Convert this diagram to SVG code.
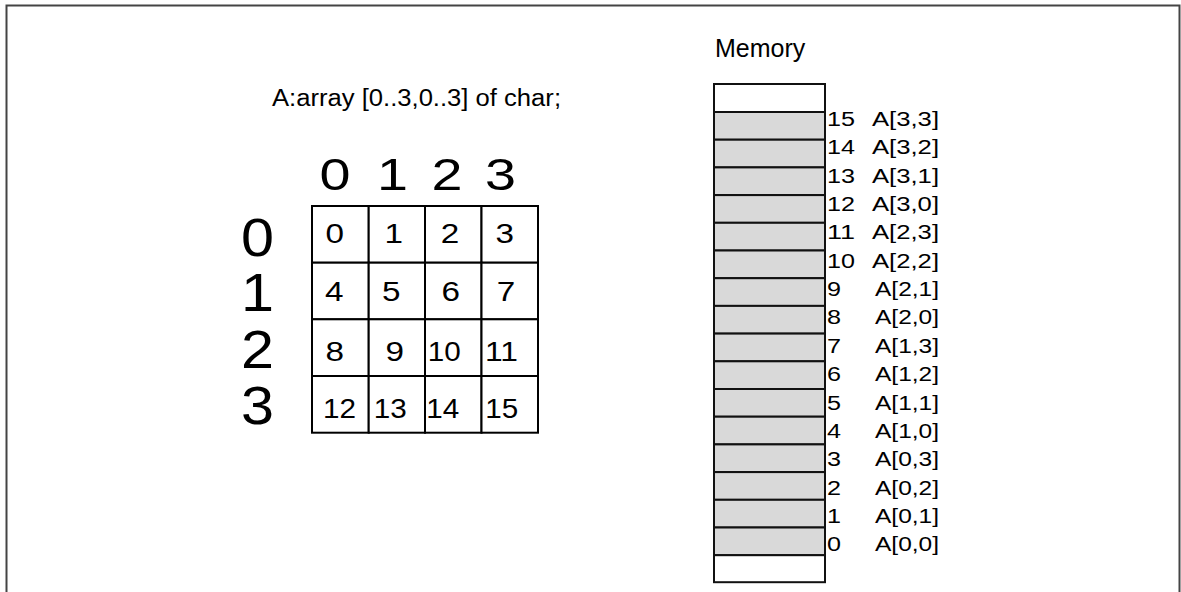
<svg xmlns="http://www.w3.org/2000/svg" width="1181" height="592" viewBox="0 0 1181 592">
<style>
text{font-family:"Liberation Sans",Arial,sans-serif;fill:#000}
.cell{fill:#fff;stroke:#000;stroke-width:2}
.mem{fill:#d9d9d9;stroke:#111;stroke-width:2}
.memw{fill:#fff;stroke:#111;stroke-width:2}
.cn{font-size:28px}
.hd{font-size:45px}
.rh{font-size:54px}
.lb{font-size:20.5px}
</style>
<rect x="0" y="0" width="1181" height="592" fill="#fff"/>
<path d="M6.5,592 V5.5 H1179.5 V592" fill="none" stroke="#444" stroke-width="2"/>
<g id="title"><text x="272" y="106" font-size="23.5" textLength="289" lengthAdjust="spacingAndGlyphs">A:array [0..3,0..3] of char;</text></g>
<g id="memory-title"><text x="715" y="57" font-size="25">Memory</text></g>
<g id="col-headers" class="hd">
<text x="319.5" y="190" textLength="31" lengthAdjust="spacingAndGlyphs">0</text>
<text x="377" y="190" textLength="31" lengthAdjust="spacingAndGlyphs">1</text>
<text x="431.5" y="190" textLength="31" lengthAdjust="spacingAndGlyphs">2</text>
<text x="485" y="190" textLength="31" lengthAdjust="spacingAndGlyphs">3</text>
</g>
<g id="row-headers" class="rh">
<text x="241" y="256" textLength="33" lengthAdjust="spacingAndGlyphs">0</text>
<text x="241" y="311" textLength="33" lengthAdjust="spacingAndGlyphs">1</text>
<text x="241" y="367.5" textLength="33" lengthAdjust="spacingAndGlyphs">2</text>
<text x="241" y="424" textLength="33" lengthAdjust="spacingAndGlyphs">3</text>
</g>
<g id="grid">
<g id="cell-0"><rect class="cell" x="312" y="206" width="56.7" height="56.7"/><text class="cn" x="325.5" y="243" textLength="18.5" lengthAdjust="spacingAndGlyphs">0</text></g>
<g id="cell-1"><rect class="cell" x="368.7" y="206" width="56.3" height="56.7"/><text class="cn" x="384.5" y="243" textLength="18.5" lengthAdjust="spacingAndGlyphs">1</text></g>
<g id="cell-2"><rect class="cell" x="425" y="206" width="56.5" height="56.7"/><text class="cn" x="440.8" y="243" textLength="18.5" lengthAdjust="spacingAndGlyphs">2</text></g>
<g id="cell-3"><rect class="cell" x="481.5" y="206" width="56.5" height="56.7"/><text class="cn" x="495.5" y="243" textLength="18.5" lengthAdjust="spacingAndGlyphs">3</text></g>
<g id="cell-4"><rect class="cell" x="312" y="262.7" width="56.7" height="56.6"/><text class="cn" x="325" y="301" textLength="18.5" lengthAdjust="spacingAndGlyphs">4</text></g>
<g id="cell-5"><rect class="cell" x="368.7" y="262.7" width="56.3" height="56.6"/><text class="cn" x="382" y="301" textLength="18.5" lengthAdjust="spacingAndGlyphs">5</text></g>
<g id="cell-6"><rect class="cell" x="425" y="262.7" width="56.5" height="56.6"/><text class="cn" x="441.5" y="301" textLength="18.5" lengthAdjust="spacingAndGlyphs">6</text></g>
<g id="cell-7"><rect class="cell" x="481.5" y="262.7" width="56.5" height="56.6"/><text class="cn" x="496.8" y="301" textLength="18.5" lengthAdjust="spacingAndGlyphs">7</text></g>
<g id="cell-8"><rect class="cell" x="312" y="319.3" width="56.7" height="56.7"/><text class="cn" x="325.5" y="360.5" textLength="18.5" lengthAdjust="spacingAndGlyphs">8</text></g>
<g id="cell-9"><rect class="cell" x="368.7" y="319.3" width="56.3" height="56.7"/><text class="cn" x="385.5" y="360.5" textLength="18.5" lengthAdjust="spacingAndGlyphs">9</text></g>
<g id="cell-10"><rect class="cell" x="425" y="319.3" width="56.5" height="56.7"/><text class="cn" x="427.8" y="360.5" textLength="33" lengthAdjust="spacingAndGlyphs">10</text></g>
<g id="cell-11"><rect class="cell" x="481.5" y="319.3" width="56.5" height="56.7"/><text class="cn" x="485" y="360.5" textLength="33" lengthAdjust="spacingAndGlyphs">11</text></g>
<g id="cell-12"><rect class="cell" x="312" y="376" width="56.7" height="56.7"/><text class="cn" x="323" y="418" textLength="33" lengthAdjust="spacingAndGlyphs">12</text></g>
<g id="cell-13"><rect class="cell" x="368.7" y="376" width="56.3" height="56.7"/><text class="cn" x="373.8" y="418" textLength="33" lengthAdjust="spacingAndGlyphs">13</text></g>
<g id="cell-14"><rect class="cell" x="425" y="376" width="56.5" height="56.7"/><text class="cn" x="426.3" y="418" textLength="33" lengthAdjust="spacingAndGlyphs">14</text></g>
<g id="cell-15"><rect class="cell" x="481.5" y="376" width="56.5" height="56.7"/><text class="cn" x="485.3" y="418" textLength="33" lengthAdjust="spacingAndGlyphs">15</text></g>
</g>
<g id="memory">
<g id="mem-top"><rect class="memw" x="714" y="84" width="111" height="28"/></g>
<g id="mem-15"><rect class="mem" x="714" y="112" width="111" height="27.7"/><text class="lb" x="827" y="126" textLength="28" lengthAdjust="spacingAndGlyphs">15</text><text class="lb" x="872" y="126" textLength="67" lengthAdjust="spacingAndGlyphs">A[3,3]</text></g>
<g id="mem-14"><rect class="mem" x="714" y="139.7" width="111" height="27.7"/><text class="lb" x="827" y="154.35" textLength="28" lengthAdjust="spacingAndGlyphs">14</text><text class="lb" x="872" y="154.35" textLength="67" lengthAdjust="spacingAndGlyphs">A[3,2]</text></g>
<g id="mem-13"><rect class="mem" x="714" y="167.4" width="111" height="27.7"/><text class="lb" x="827" y="182.7" textLength="28" lengthAdjust="spacingAndGlyphs">13</text><text class="lb" x="872" y="182.7" textLength="67" lengthAdjust="spacingAndGlyphs">A[3,1]</text></g>
<g id="mem-12"><rect class="mem" x="714" y="195.1" width="111" height="27.7"/><text class="lb" x="827" y="211.05" textLength="28" lengthAdjust="spacingAndGlyphs">12</text><text class="lb" x="872" y="211.05" textLength="67" lengthAdjust="spacingAndGlyphs">A[3,0]</text></g>
<g id="mem-11"><rect class="mem" x="714" y="222.8" width="111" height="27.7"/><text class="lb" x="827" y="239.4" textLength="28" lengthAdjust="spacingAndGlyphs">11</text><text class="lb" x="872" y="239.4" textLength="67" lengthAdjust="spacingAndGlyphs">A[2,3]</text></g>
<g id="mem-10"><rect class="mem" x="714" y="250.5" width="111" height="27.7"/><text class="lb" x="827" y="267.75" textLength="28" lengthAdjust="spacingAndGlyphs">10</text><text class="lb" x="872" y="267.75" textLength="67" lengthAdjust="spacingAndGlyphs">A[2,2]</text></g>
<g id="mem-9"><rect class="mem" x="714" y="278.2" width="111" height="27.7"/><text class="lb" x="827" y="296.1" textLength="14" lengthAdjust="spacingAndGlyphs">9</text><text class="lb" x="875" y="296.1" textLength="64" lengthAdjust="spacingAndGlyphs">A[2,1]</text></g>
<g id="mem-8"><rect class="mem" x="714" y="305.9" width="111" height="27.7"/><text class="lb" x="827" y="324.45" textLength="14" lengthAdjust="spacingAndGlyphs">8</text><text class="lb" x="875" y="324.45" textLength="64" lengthAdjust="spacingAndGlyphs">A[2,0]</text></g>
<g id="mem-7"><rect class="mem" x="714" y="333.6" width="111" height="27.7"/><text class="lb" x="827" y="352.8" textLength="14" lengthAdjust="spacingAndGlyphs">7</text><text class="lb" x="875" y="352.8" textLength="64" lengthAdjust="spacingAndGlyphs">A[1,3]</text></g>
<g id="mem-6"><rect class="mem" x="714" y="361.3" width="111" height="27.7"/><text class="lb" x="827" y="381.15" textLength="14" lengthAdjust="spacingAndGlyphs">6</text><text class="lb" x="875" y="381.15" textLength="64" lengthAdjust="spacingAndGlyphs">A[1,2]</text></g>
<g id="mem-5"><rect class="mem" x="714" y="389" width="111" height="27.7"/><text class="lb" x="827" y="409.5" textLength="14" lengthAdjust="spacingAndGlyphs">5</text><text class="lb" x="875" y="409.5" textLength="64" lengthAdjust="spacingAndGlyphs">A[1,1]</text></g>
<g id="mem-4"><rect class="mem" x="714" y="416.7" width="111" height="27.7"/><text class="lb" x="827" y="437.85" textLength="14" lengthAdjust="spacingAndGlyphs">4</text><text class="lb" x="875" y="437.85" textLength="64" lengthAdjust="spacingAndGlyphs">A[1,0]</text></g>
<g id="mem-3"><rect class="mem" x="714" y="444.4" width="111" height="27.7"/><text class="lb" x="827" y="466.2" textLength="14" lengthAdjust="spacingAndGlyphs">3</text><text class="lb" x="875" y="466.2" textLength="64" lengthAdjust="spacingAndGlyphs">A[0,3]</text></g>
<g id="mem-2"><rect class="mem" x="714" y="472.1" width="111" height="27.7"/><text class="lb" x="827" y="494.55" textLength="14" lengthAdjust="spacingAndGlyphs">2</text><text class="lb" x="875" y="494.55" textLength="64" lengthAdjust="spacingAndGlyphs">A[0,2]</text></g>
<g id="mem-1"><rect class="mem" x="714" y="499.8" width="111" height="27.7"/><text class="lb" x="827" y="522.9" textLength="14" lengthAdjust="spacingAndGlyphs">1</text><text class="lb" x="875" y="522.9" textLength="64" lengthAdjust="spacingAndGlyphs">A[0,1]</text></g>
<g id="mem-0"><rect class="mem" x="714" y="527.5" width="111" height="27.7"/><text class="lb" x="827" y="551.25" textLength="14" lengthAdjust="spacingAndGlyphs">0</text><text class="lb" x="875" y="551.25" textLength="64" lengthAdjust="spacingAndGlyphs">A[0,0]</text></g>
<g id="mem-bottom"><rect class="memw" x="714" y="555.2" width="111" height="27"/></g>
</g>
<g id="connectors"/>
</svg>
